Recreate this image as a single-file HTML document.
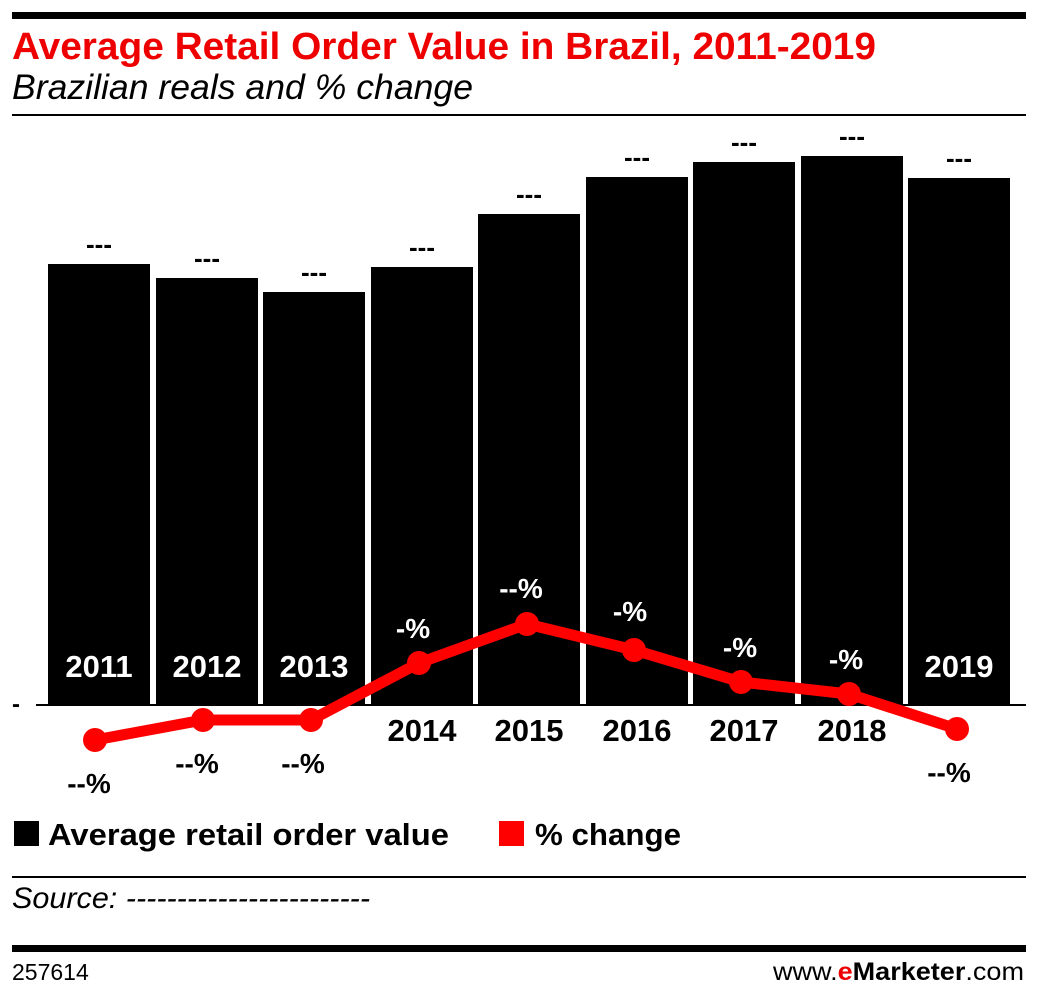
<!DOCTYPE html>
<html><head><meta charset="utf-8"><style>
body{margin:0;background:#fff;width:1038px;height:1000px;overflow:hidden;font-family:"Liberation Sans",sans-serif}
</style></head><body>
<svg width="1038" height="1000" xmlns="http://www.w3.org/2000/svg" font-family="Liberation Sans, sans-serif">
<rect x="12" y="12" width="1014" height="7" fill="#000"/>
<text x="12" y="59" font-size="38" font-weight="bold" fill="#e00" textLength="864" lengthAdjust="spacingAndGlyphs">Average Retail Order Value in Brazil, 2011-2019</text>
<text x="12" y="99" font-size="35" font-style="italic" fill="#000" textLength="461" lengthAdjust="spacingAndGlyphs">Brazilian reals and % change</text>
<rect x="12" y="114" width="1014" height="2" fill="#000"/>
<g fill="#000">
<rect x="48" y="264" width="102" height="441"/>
<rect x="156" y="278" width="102" height="427"/>
<rect x="263" y="292" width="102" height="413"/>
<rect x="371" y="267" width="102" height="438"/>
<rect x="478" y="214" width="102" height="491"/>
<rect x="586" y="177" width="102" height="528"/>
<rect x="693" y="162" width="102" height="543"/>
<rect x="801" y="156" width="102" height="549"/>
<rect x="908" y="178" width="102" height="527"/>
</g>
<rect x="36" y="704" width="990" height="2" fill="#000"/>
<text x="12" y="712" font-size="24" font-weight="bold">-</text>
<g font-size="26" font-weight="bold" text-anchor="middle" fill="#000">
<text x="99" y="253">---</text><text x="207" y="267">---</text><text x="314" y="281">---</text>
<text x="422" y="256">---</text><text x="529" y="203">---</text><text x="637" y="166">---</text>
<text x="744" y="151">---</text><text x="852" y="145">---</text><text x="959" y="167">---</text>
</g>
<g font-size="31" font-weight="bold" text-anchor="middle">
<text x="99" y="677" fill="#fff">2011</text><text x="207" y="677" fill="#fff">2012</text><text x="314" y="677" fill="#fff">2013</text>
<text x="422" y="741" fill="#000">2014</text><text x="529" y="741" fill="#000">2015</text><text x="637" y="741" fill="#000">2016</text>
<text x="744" y="741" fill="#000">2017</text><text x="852" y="741" fill="#000">2018</text><text x="959" y="677" fill="#fff">2019</text>
</g>
<polyline points="95,740 203,720 311,720 419,663 527,624 634,650 741,682 849,694 957,729" fill="none" stroke="#f00" stroke-width="11" stroke-linejoin="round"/>
<g fill="#f00">
<circle cx="95" cy="740" r="12"/><circle cx="203" cy="720" r="12"/><circle cx="311" cy="720" r="12"/>
<circle cx="419" cy="663" r="12"/><circle cx="527" cy="624" r="12"/><circle cx="634" cy="650" r="12"/>
<circle cx="741" cy="682" r="12"/><circle cx="849" cy="694" r="12"/><circle cx="957" cy="729" r="12"/>
</g>
<g font-size="28" font-weight="bold" text-anchor="middle">
<text x="89" y="793" fill="#000">--%</text><text x="197" y="773" fill="#000">--%</text><text x="303" y="773" fill="#000">--%</text>
<text x="413" y="638" fill="#fff">-%</text><text x="521" y="598" fill="#fff">--%</text><text x="630" y="621" fill="#fff">-%</text>
<text x="740" y="657" fill="#fff">-%</text><text x="846" y="669" fill="#fff">-%</text><text x="949" y="782" fill="#000">--%</text>
</g>
<rect x="14" y="821" width="25" height="25" fill="#000"/>
<text x="48" y="845" font-size="31" font-weight="bold" textLength="401" lengthAdjust="spacingAndGlyphs">Average retail order value</text>
<rect x="499" y="821" width="25" height="25" fill="#f00"/>
<text x="535" y="845" font-size="31" font-weight="bold" textLength="146" lengthAdjust="spacingAndGlyphs">% change</text>
<rect x="12" y="876" width="1014" height="2" fill="#000"/>
<text x="12" y="908" font-size="30" font-style="italic" textLength="358" lengthAdjust="spacingAndGlyphs">Source: ------------------------</text>
<rect x="12" y="945" width="1014" height="7" fill="#000"/>
<text x="12" y="980" font-size="23">257614</text>
<text x="1024" y="980" font-size="25" text-anchor="end" textLength="251" lengthAdjust="spacingAndGlyphs">www.<tspan font-weight="bold" fill="#e00">e</tspan><tspan font-weight="bold">Marketer</tspan>.com</text>
</svg>
</body></html>
